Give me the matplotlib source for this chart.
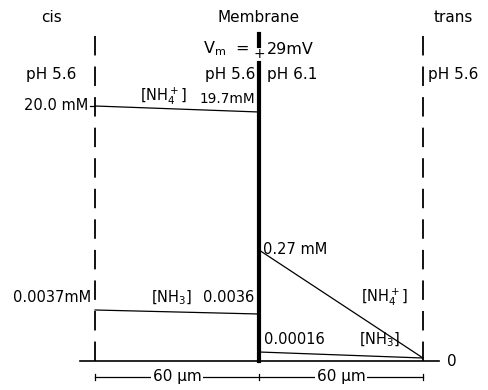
import matplotlib.pyplot as plt

plt.rcParams['font.family'] = ['DejaVu Sans']
plt.rcParams['lines.scale_dashes'] = False
plt.rcParams['mathtext.default'] = 'regular'

# distance (um): cis bath edge, membrane, trans bath edge
x_pos = [-60, 0, 60]

# concentrations (mM) and their schematic drawn heights (diagram is not to scale)
nh4_cis = [20.0, 19.7]
nh4_cis_h = [255, 249]
nh3_cis = [0.0037, 0.0036]
nh3_cis_h = [51, 47]
nh4_trans = [0.27, 0]
nh4_trans_h = [111, 3]
nh3_trans = [0.00016, 0]
nh3_trans_h = [9, 3]

ph_labels = ['pH 5.6', 'pH 5.6', 'pH 6.1', 'pH 5.6']
vm = 29

fig = plt.figure(figsize=(4.88, 3.90), dpi=100)
ax = fig.add_axes([0, 0, 1, 1])
ax.set_xlim(-94.8, 83.8)
ax.set_ylim(-29, 361)
ax.axis('off')

k = 'black'
fs = 11
sm = 10.5

# baths and membrane
for xb in (x_pos[0], x_pos[2]):
    ax.plot([xb, xb], [0, 328], color=k, lw=1.3, dashes=(14, 8))
ax.plot([x_pos[1], x_pos[1]], [0, 298], color=k, lw=3)
ax.plot([x_pos[1], x_pos[1]], [315, 327], color=k, lw=3)
ax.plot([-65.5, 66], [0, 0], color=k, lw=1.2)

# concentration profiles
ax.plot(x_pos[:2], nh4_cis_h, color=k, lw=0.9)
ax.plot(x_pos[:2], nh3_cis_h, color=k, lw=0.9)
ax.plot(x_pos[1:], nh4_trans_h, color=k, lw=0.9)
ax.plot(x_pos[1:], nh3_trans_h, color=k, lw=0.9)
ax.plot([-62, -60], [nh4_cis_h[0], nh4_cis_h[0]], color=k, lw=0.9)

# headings
ax.text(-76, 343, 'cis', ha='center', va='center', fontsize=fs)
ax.text(0, 343, 'Membrane', ha='center', va='center', fontsize=fs)
ax.text(71, 343, 'trans', ha='center', va='center', fontsize=fs)
ax.text(-3.5, 312, r'V$_m$  =', ha='right', va='center', fontsize=fs + 0.5)
ax.text(0, 307, '+', ha='center', va='center', fontsize=fs - 1)
ax.text(3, 312, f'{vm}mV', ha='left', va='center', fontsize=fs + 0.5)

# pH
ax.text(-76, 286, ph_labels[0], ha='center', va='center', fontsize=fs)
ax.text(-1.5, 286, ph_labels[1], ha='right', va='center', fontsize=fs)
ax.text(3, 286, ph_labels[2], ha='left', va='center', fontsize=fs)
ax.text(71, 286, ph_labels[3], ha='center', va='center', fontsize=fs)

# concentration labels
ax.text(-62.5, nh4_cis_h[0], f'{nh4_cis[0]:.1f} mM', ha='right', va='center', fontsize=sm)
ax.text(-1.5, 262, f'{nh4_cis[1]:.1f}mM', ha='right', va='center', fontsize=sm - 0.7)
ax.text(-35, 265, r'[NH$_4^+$]', ha='center', va='center', fontsize=sm)
ax.text(1.5, 111, f'{nh4_trans[0]:.2f} mM', ha='left', va='center', fontsize=sm)
ax.text(46, 64, r'[NH$_4^+$]', ha='center', va='center', fontsize=sm)
ax.text(-61.5, 63, f'{nh3_cis[0]:.4f}mM', ha='right', va='center', fontsize=sm)
ax.text(-32, 63, r'[NH$_3$]', ha='center', va='center', fontsize=sm)
ax.text(-1.8, 63, f'{nh3_cis[1]:.4f}', ha='right', va='center', fontsize=sm)
ax.text(1.8, 21, f'{nh3_trans[0]:.5f}', ha='left', va='center', fontsize=sm)
ax.text(44, 21, r'[NH$_3$]', ha='center', va='center', fontsize=sm)
ax.text(70.5, 0, '0', ha='center', va='center', fontsize=fs)

# scale bar
yb = -16
ax.plot([x_pos[0], x_pos[2]], [yb, yb], color=k, lw=0.9)
for xt in x_pos:
    ax.plot([xt, xt], [yb - 3, yb + 3], color=k, lw=0.9)
for xc in (-30, 30):
    ax.text(xc, yb, '60 μm', ha='center', va='center', fontsize=fs,
            bbox=dict(facecolor='white', edgecolor='none', pad=1))

fig.savefig('out.png', dpi=100)
